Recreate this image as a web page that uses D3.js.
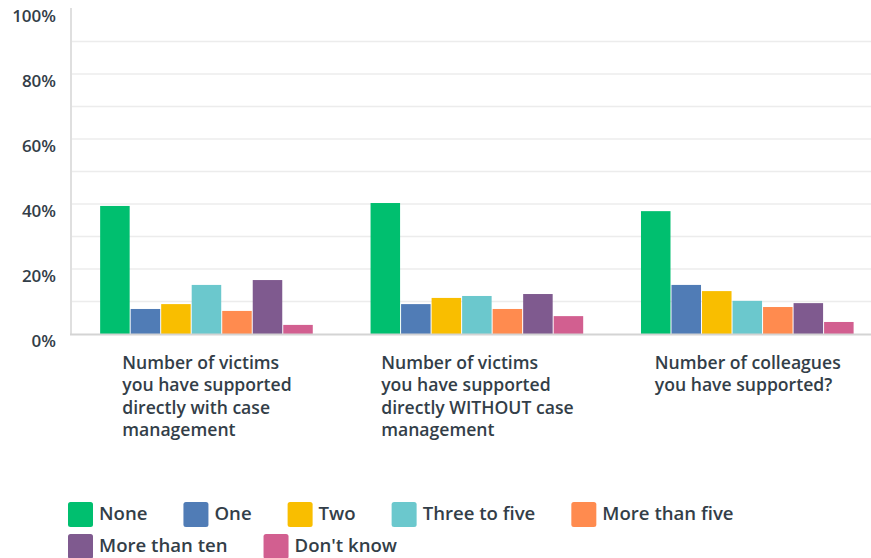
<!DOCTYPE html>
<html>
<head>
<meta charset="utf-8">
<script src="https://cdn.jsdelivr.net/npm/d3@7"></script>
<style>
  body { margin: 0; background: #fff; }
  svg { display: block; font-family: "Open Sans", "Lato", sans-serif; }
</style>
</head>
<body>
<svg id="chart" width="871" height="558"></svg>
<script>
// categories and wrapped label lines
var categories = ["victimsCase", "victimsNoCase", "colleagues"];
var categoryLines = [
    ["Number of victims", "you have supported", "directly with case", "management"],
    ["Number of victims", "you have supported", "directly WITHOUT case", "management"],
    ["Number of colleagues", "you have supported?"]
];

// series (percent per category)
var seriesNames = ["None", "One", "Two", "Three to five", "More than five", "More than ten", "Don't know"];
var seriesColors = ["#00bf6f", "#507cb6", "#f9be00", "#6bc8cd", "#ff8b4f", "#7f5a8f", "#d25f90"];
var none = [39.4, 40.3, 37.8];
var one = [7.7, 9.2, 15.1];
var two = [9.2, 11.1, 13.2];
var threeToFive = [15.1, 11.7, 10.2];
var moreThanFive = [7.1, 7.7, 8.3];
var moreThanTen = [16.6, 12.3, 9.5];
var dontKnow = [2.8, 5.5, 3.7];
var yTicks = [0, 20, 40, 60, 80, 100];
var gridTicks = [10, 20, 30, 40, 50, 60, 70, 80, 90];

var seriesValues = [none, one, two, threeToFive, moreThanFive, moreThanTen, dontKnow];
var textColor = "#333e48";

var svg = d3.select("#chart");

var x0 = d3.scaleBand().domain(categories).range([71.75, 883]).paddingInner(0.21).paddingOuter(0.105);
var x1 = d3.scaleBand().domain(seriesNames).range([0, x0.bandwidth()]);
var y = d3.scaleLinear().domain([0, 100]).range([334, 9]);

// gridlines
svg.append("g").selectAll("line").data(gridTicks).enter().append("line")
    .attr("x1", 72).attr("x2", 871)
    .attr("y1", function (d) { return y(d); })
    .attr("y2", function (d) { return y(d); })
    .attr("stroke", "#ececec").attr("stroke-width", 1.5);

// y tick labels
svg.append("g").selectAll("text").data(yTicks).enter().append("text")
    .attr("x", 56).attr("y", function (d) { return y(d) + 7; })
    .attr("text-anchor", "end").attr("dy", "0.35em")
    .attr("fill", textColor).attr("font-size", 17).attr("font-weight", 600)
    .text(function (d) { return d + "%"; });

// bars
var groups = svg.append("g").selectAll("g").data(categories).enter().append("g")
    .attr("transform", function (d) { return "translate(" + x0(d) + ",0)"; });

groups.selectAll("rect").data(function (c, ci) {
    return seriesNames.map(function (s, si) { return {s: s, v: seriesValues[si][ci], color: seriesColors[si]}; });
}).enter().append("rect")
    .attr("x", function (d) { return x1(d.s); })
    .attr("width", x1.bandwidth() - 1)
    .attr("y", function (d) { return y(d.v); })
    .attr("height", function (d) { return y(0) - y(d.v); })
    .attr("fill", function (d) { return d.color; });

// axes lines
svg.append("line").attr("x1", 71).attr("x2", 71).attr("y1", 8).attr("y2", 335)
    .attr("stroke", "#d4d4d4").attr("stroke-width", 1.5);
svg.append("line").attr("x1", 70).attr("x2", 871).attr("y1", 334.5).attr("y2", 334.5)
    .attr("stroke", "#d4d4d4").attr("stroke-width", 2);

// category labels: left-aligned block centred on the group
categories.forEach(function (c, ci) {
    var g = svg.append("g");
    var t = g.append("text").attr("fill", textColor).attr("font-size", 17.6).attr("font-weight", 600);
    categoryLines[ci].forEach(function (line, li) {
        t.append("tspan").attr("x", 0).attr("y", 369 + li * 22.3).text(line);
    });
    var w = 0;
    t.selectAll("tspan").each(function () { w = Math.max(w, this.getComputedTextLength()); });
    g.attr("transform", "translate(" + (x0(c) + x0.bandwidth() / 2 - w / 2) + ",0)");
});

// legend (flow layout)
var lx = 68, ly = 502, maxX = 860;
seriesNames.forEach(function (s, si) {
    var g = svg.append("g");
    g.append("rect").attr("width", 25).attr("height", 25).attr("rx", 2.5)
        .attr("fill", seriesColors[si]);
    var t = g.append("text").attr("x", 31).attr("y", 11.5).attr("dy", "0.35em")
        .attr("fill", textColor).attr("font-size", 18.6).attr("font-weight", 600).text(s);
    var itemW = 31 + t.node().getComputedTextLength();
    if (lx + itemW > maxX) { lx = 68; ly += 32; }
    g.attr("transform", "translate(" + lx + "," + ly + ")");
    lx += itemW + 36;
});
</script>
</body>
</html>
